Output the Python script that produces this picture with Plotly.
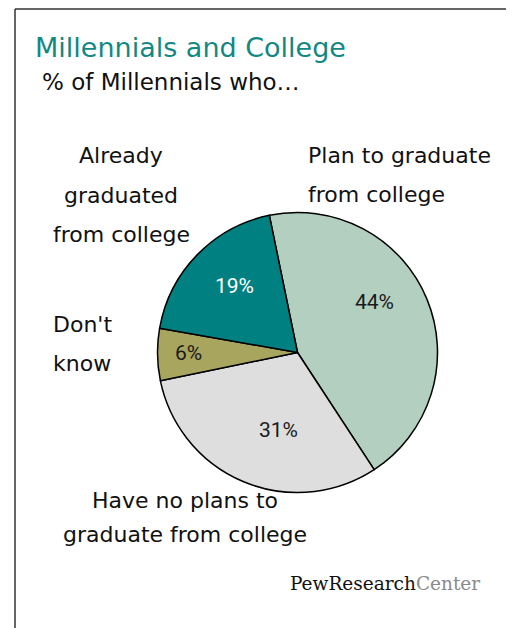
import plotly.graph_objects as go

# The page body has an 8px default margin, so the figure is offset by 8px.
OFF = 8
W, H = 514 - OFF, 628 - OFF

# ---- data ----
categories = ["Plan to graduate from college", "Have no plans to graduate from college",
              "Don't know", "Already graduated from college"]
values = [44, 31, 6, 19]
slice_colors = ["#b3cfbf", "#dedede", "#a8a55f", "#008080"]
pct_text_colors = ["#1a1a1a", "#1a1a1a", "#1a1a1a", "#ffffff"]

title_text = "Millennials and College"
subtitle_text = "% of Millennials who…"

def px(x):
    return (x - OFF) / W

def py(y):
    return 1 - (y - OFF) / H

# pie geometry (window pixels)
cx, cy, R = 297.5, 352.5, 140

fig = go.Figure()
fig.add_trace(go.Pie(
    labels=categories,
    values=values,
    sort=False,
    direction="clockwise",
    rotation=-11.6,
    marker=dict(colors=slice_colors, line=dict(color="#000000", width=1.5)),
    textinfo="none",
    hoverinfo="label+percent",
    showlegend=False,
    domain=dict(x=[px(cx - R), px(cx + R)], y=[py(cy + R), py(cy - R)]),
))

annotations = []

def add_text(text, x, y_base, size, xanchor="left", color="#111111", family="DejaVu Sans"):
    annotations.append(dict(
        text=text, x=px(x), y=py(y_base - 0.345 * size), xref="paper", yref="paper",
        xanchor=xanchor, yanchor="middle", showarrow=False,
        font=dict(family=family, size=size, color=color),
    ))

# title & subtitle
add_text(title_text, 33, 57, 27, color="#138883")
add_text(subtitle_text, 40, 90, 23, color="#111111")

# category labels (each line separately for the wide line spacing)
label_lines = {
    0: (["Plan to graduate", "from college"], 306, [163, 202], "left"),
    1: (["Have no plans to", "graduate from college"], 185, [508, 542], "center"),
    2: (["Don't", "know"], 51, [332, 371], "left"),
    3: (["Already", "graduated", "from college"], 121, [163, 203, 242], "center"),
}
for i, (lines, x, ys, anchor) in label_lines.items():
    for line, yb in zip(lines, ys):
        add_text(line, x, yb, 22, xanchor=anchor)

# percentage labels inside slices (centres in window pixels)
pct_pos = [(374, 302), (278, 430), (188, 353), (234, 286)]
for v, (x, y), c in zip(values, pct_pos, pct_text_colors):
    annotations.append(dict(
        text=f"{v}%", x=px(x), y=py(y), xref="paper", yref="paper",
        xanchor="center", yanchor="middle", showarrow=False,
        font=dict(family="Roboto", size=21, color=c),
    ))

# logo
annotations.append(dict(
    text="PewResearch<span style='color:#8a8a8a'>Center</span>",
    x=px(288), y=py(590 - 0.345 * 18.5), xref="paper", yref="paper",
    xanchor="left", yanchor="middle", showarrow=False,
    font=dict(family="DejaVu Serif", size=18.5, color="#111111"),
))

shapes = [
    dict(type="line", xref="paper", yref="paper", x0=px(15), x1=1, y0=py(9), y1=py(9),
         line=dict(color="#333333", width=1.5)),
    dict(type="line", xref="paper", yref="paper", x0=px(15), x1=px(15), y0=py(9), y1=0,
         line=dict(color="#333333", width=1.5)),
]

fig.update_layout(
    width=W, height=H, autosize=False,
    margin=dict(l=0, r=0, t=0, b=0),
    paper_bgcolor="#ffffff", plot_bgcolor="#ffffff",
    annotations=annotations, shapes=shapes,
)

fig.write_html("out.html")
